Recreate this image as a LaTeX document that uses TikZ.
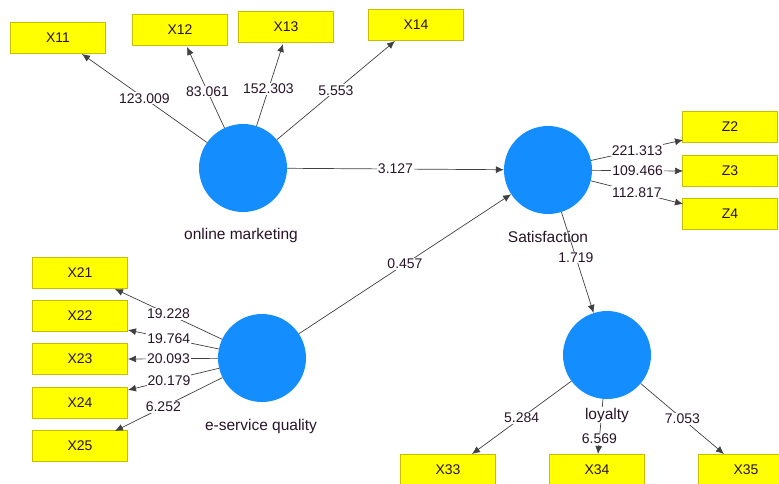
\documentclass[tikz,border=0pt]{standalone}
\usepackage{fontspec}
\setmainfont{Liberation Sans}
\usetikzlibrary{arrows.meta}
\definecolor{lv}{RGB}{20,142,255}
\definecolor{ind}{RGB}{255,255,0}
\definecolor{indb}{RGB}{200,190,0}
\definecolor{txt}{RGB}{40,20,40}
\begin{document}
\begin{tikzpicture}[x=1pt,y=-1pt,
  font=\fontsize{14}{16}\selectfont,
  lvar/.style={circle,fill=lv,minimum size=88pt,inner sep=0pt},
  mvar/.style={rectangle,fill=ind,draw=indb,line width=0.6pt,minimum width=95pt,minimum height=31pt,inner sep=0pt,text=txt},
  lvcap/.style={text=txt,inner sep=1pt,font=\fontsize{15.5}{17}\selectfont},
  lab/.style={fill=white,inner sep=1pt,text=txt},
  conn/.style={draw=black!75,line width=0.7pt,-{Latex[length=8pt,width=7pt]}}]
\useasboundingbox (0,0) rectangle (779,483);
% latent variables
\node[lvar] (om) at (243,168) {};
\node[lvar] (sat) at (548,170) {};
\node[lvar] (esq) at (262,358) {};
\node[lvar] (loy) at (607,355) {};
\node[lvcap] (omc) at (241,235) {online marketing};
\node[lvcap] (satc) at (548,237) {Satisfaction};
\node[lvcap] (esqc) at (261,426) {e-service quality};
% indicators
\node[mvar] (x11) at (58,38) {X11};
\node[mvar] (x12) at (180,30) {X12};
\node[mvar] (x13) at (286,27) {X13};
\node[mvar] (x14) at (416,25) {X14};
\node[mvar] (z2) at (730,127) {Z2};
\node[mvar] (z3) at (730,171) {Z3};
\node[mvar] (z4) at (730,214) {Z4};
\node[mvar] (x21) at (80,273) {X21};
\node[mvar] (x22) at (80,316) {X22};
\node[mvar] (x23) at (80,359) {X23};
\node[mvar] (x24) at (80,403) {X24};
\node[mvar] (x25) at (80,446) {X25};
\node[mvar] (x33) at (448,470) {X33};
\node[mvar] (x34) at (597,470) {X34};
\node[mvar] (x35) at (746,470) {X35};
% helper coordinates for arrow tips
\coordinate (t11) at (82,54);
\coordinate (t12) at (187,47);
\coordinate (t13) at (283,44);
\coordinate (t14) at (395,41);
\coordinate (tz2) at (683,140);
\coordinate (tz3) at (683,171);
\coordinate (tz4) at (683,204);
\coordinate (t21) at (115,289);
\coordinate (t22) at (128,330);
\coordinate (t23) at (128,359);
\coordinate (t24) at (128,390);
\coordinate (t25) at (115,431);
\coordinate (t33) at (472,454);
\coordinate (t34) at (598,454);
\coordinate (t35) at (724,454);
% connectors
\draw[conn] (om) -- node[lab,pos=0.5] {123.009} (t11);
\draw[conn] (om) -- node[lab,pos=0.45] {83.061} (t12);
\draw[conn] (om) -- node[lab,pos=0.45] {152.303} (t13);
\draw[conn] (om) -- node[lab,pos=0.5] {5.553} (t14);
\draw[conn] (om) -- node[lab,pos=0.5] {3.127} (sat);
\draw[conn] (esq) -- node[lab,pos=0.5] {0.457} (sat);
\draw[conn] (sat) -- node[lab,pos=0.5] {221.313} (tz2);
\draw[conn] (sat) -- node[lab,pos=0.5] {109.466} (tz3);
\draw[conn] (sat) -- node[lab,pos=0.5] {112.817} (tz4);
\draw[conn] (sat) -- node[lab,pos=0.45] {1.719} (loy);
\draw[conn] (esq) -- node[lab,pos=0.5] {19.228} (t21);
\draw[conn] (esq) -- node[lab,pos=0.55] {19.764} (t22);
\draw[conn] (esq) -- node[lab,pos=0.55] {20.093} (t23);
\draw[conn] (esq) -- node[lab,pos=0.55] {20.179} (t24);
\draw[conn] (esq) -- node[lab,pos=0.55] {6.252} (t25);
\draw[conn] (loy) -- node[lab,pos=0.5] {5.284} (t33);
\draw[conn] (loy) -- node[lab,pos=0.72] {6.569} (t34);
\draw[conn] (loy) -- node[lab,pos=0.5] {7.053} (t35);
\node[lvcap,fill=white,inner sep=0.5pt] (loyc) at (607,415) {loyalty};
\end{tikzpicture}
\end{document}
